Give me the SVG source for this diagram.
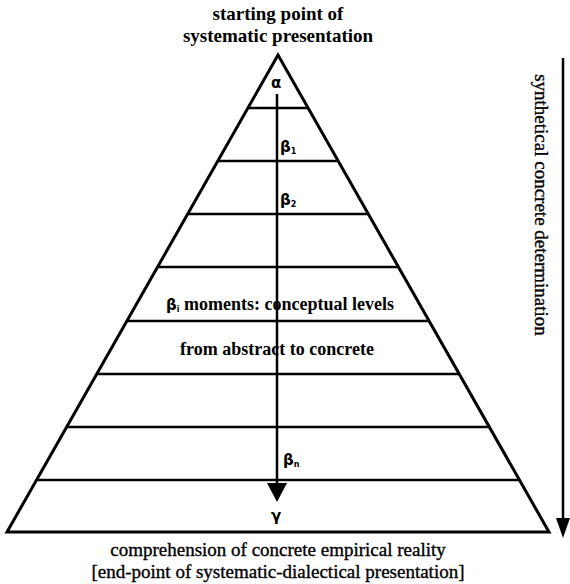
<svg xmlns="http://www.w3.org/2000/svg" width="570" height="584" viewBox="0 0 570 584">
<style>
.lbl{font-family:"Liberation Serif","Times New Roman",serif;font-weight:bold;font-size:18px;fill:#000;text-anchor:middle}
.cap{font-family:"Liberation Serif","Times New Roman",serif;font-size:19px;fill:#000;stroke:#000;stroke-width:0.35;text-anchor:middle}
.gr{font-family:"DejaVu Sans","Liberation Sans",sans-serif;font-weight:bold;font-size:15px;fill:#000;stroke:none}
.sub{font-size:8px}
.edge{fill:none;stroke:#000;stroke-width:3;stroke-linejoin:miter}
.lvl{stroke:#000;stroke-width:2.5}
.conn{stroke:#000;stroke-width:2.5;fill:none}
</style>
<g id="pyramid">
<polygon class="edge" points="278,55 7,532 549,532"/>
<line class="lvl" x1="247.9" y1="108" x2="308.1" y2="108"/>
<line class="lvl" x1="217.8" y1="161" x2="338.2" y2="161"/>
<line class="lvl" x1="187.7" y1="214" x2="368.3" y2="214"/>
<line class="lvl" x1="157.6" y1="267" x2="398.4" y2="267"/>
<line class="lvl" x1="126.9" y1="321" x2="429.1" y2="321"/>
<line class="lvl" x1="96.8" y1="374" x2="459.2" y2="374"/>
<line class="lvl" x1="66.7" y1="427" x2="489.3" y2="427"/>
<line class="lvl" x1="36.6" y1="480" x2="519.4" y2="480"/>
</g>
<g id="connectors">
<line class="conn" x1="277" y1="94" x2="277" y2="485"/>
<polygon points="267,483 287,483 277,502" fill="#000"/>
<line class="conn" x1="563" y1="58" x2="563" y2="520"/>
<polygon points="556,518 570,518 563,538" fill="#000"/>
</g>
<g id="top-label">
<text class="lbl" x="278" y="20" style="font-size:19px">starting point of</text>
<text class="lbl" x="278" y="42" style="font-size:19px">systematic presentation</text>
</g>
<g id="alpha"><text class="gr" x="271" y="88">α</text></g>
<g id="beta1"><text class="gr" x="280" y="152">β<tspan class="sub" dy="2">1</tspan></text></g>
<g id="beta2"><text class="gr" x="280" y="205">β<tspan class="sub" dy="2">2</tspan></text></g>
<g id="moments"><text class="lbl" x="280" y="310"><tspan class="gr">β</tspan><tspan class="gr sub" dy="2">i</tspan><tspan dy="-2"> moments: conceptual levels</tspan></text></g>
<g id="abstract"><text class="lbl" x="277" y="355">from abstract to concrete</text></g>
<g id="betan"><text class="gr" x="283" y="465">β<tspan class="sub" dy="2">n</tspan></text></g>
<g id="gamma"><text class="gr" x="271" y="521">γ</text></g>
<g id="bottom-label">
<text class="cap" x="278" y="556">comprehension of concrete empirical reality</text>
<text class="cap" x="278" y="578">[end-point of systematic-dialectical presentation]</text>
</g>
<g id="side-label">
<text class="cap" transform="translate(535,205) rotate(90)" x="0" y="0">synthetical concrete determination</text>
</g>
</svg>
